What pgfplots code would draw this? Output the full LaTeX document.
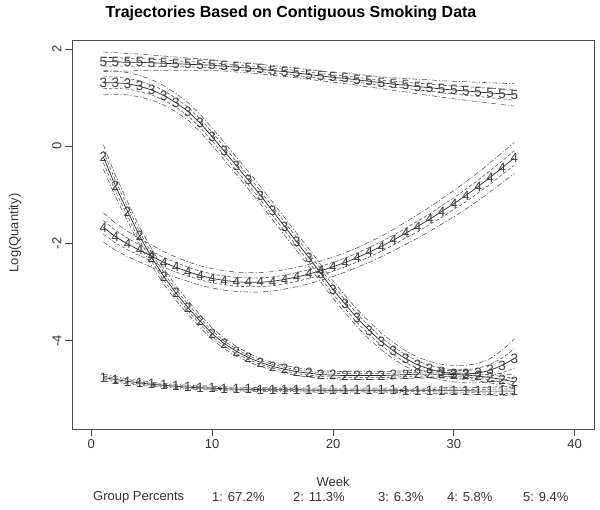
\documentclass[border=0pt]{standalone}
\usepackage{fontspec}
\setmainfont{Liberation Sans}
\usepackage{pgfplots}
\usepackage{pgfplotstable}
\pgfplotsset{compat=1.18}

\pgfplotstableread{
w m lo hi li ui
1 -4.76 -4.83 -4.69 -4.79 -4.73
2 -4.80 -4.86 -4.74 -4.83 -4.77
3 -4.84 -4.89 -4.79 -4.87 -4.81
4 -4.87 -4.92 -4.82 -4.89 -4.85
5 -4.90 -4.94 -4.86 -4.92 -4.88
6 -4.92 -4.96 -4.88 -4.94 -4.90
7 -4.94 -4.98 -4.90 -4.96 -4.92
8 -4.96 -5.00 -4.92 -4.98 -4.94
9 -4.97 -5.01 -4.93 -4.99 -4.95
10 -4.98 -5.02 -4.94 -5.00 -4.96
11 -4.99 -5.03 -4.95 -5.01 -4.97
12 -5.00 -5.04 -4.96 -5.02 -4.98
13 -5.00 -5.04 -4.96 -5.02 -4.98
14 -5.01 -5.05 -4.97 -5.03 -4.99
15 -5.01 -5.05 -4.97 -5.03 -4.99
16 -5.01 -5.05 -4.97 -5.03 -4.99
17 -5.01 -5.05 -4.97 -5.03 -4.99
18 -5.02 -5.06 -4.98 -5.04 -5.00
19 -5.02 -5.06 -4.98 -5.04 -5.00
20 -5.02 -5.06 -4.98 -5.04 -5.00
21 -5.02 -5.06 -4.98 -5.04 -5.00
22 -5.02 -5.06 -4.98 -5.04 -5.00
23 -5.02 -5.06 -4.98 -5.04 -5.00
24 -5.02 -5.06 -4.98 -5.04 -5.00
25 -5.02 -5.06 -4.98 -5.04 -5.00
26 -5.03 -5.08 -4.98 -5.05 -5.01
27 -5.03 -5.08 -4.98 -5.05 -5.01
28 -5.03 -5.08 -4.98 -5.05 -5.01
29 -5.03 -5.09 -4.97 -5.06 -5.00
30 -5.03 -5.09 -4.97 -5.06 -5.00
31 -5.03 -5.10 -4.96 -5.06 -5.00
32 -5.04 -5.11 -4.97 -5.07 -5.01
33 -5.04 -5.12 -4.96 -5.08 -5.00
34 -5.04 -5.13 -4.95 -5.08 -5.00
35 -5.04 -5.14 -4.94 -5.09 -4.99
}\gA

\pgfplotstableread{
w m lo hi li ui
1 -0.22 -0.47 0.03 -0.34 -0.10
2 -0.82 -1.04 -0.60 -0.93 -0.71
3 -1.34 -1.54 -1.14 -1.44 -1.24
4 -1.85 -2.03 -1.67 -1.94 -1.76
5 -2.29 -2.46 -2.12 -2.37 -2.21
6 -2.68 -2.84 -2.52 -2.76 -2.60
7 -3.02 -3.17 -2.87 -3.09 -2.95
8 -3.32 -3.46 -3.18 -3.39 -3.25
9 -3.60 -3.73 -3.47 -3.66 -3.54
10 -3.86 -3.98 -3.74 -3.92 -3.80
11 -4.06 -4.17 -3.95 -4.11 -4.01
12 -4.22 -4.32 -4.12 -4.27 -4.17
13 -4.35 -4.44 -4.26 -4.39 -4.31
14 -4.45 -4.53 -4.37 -4.49 -4.41
15 -4.53 -4.61 -4.45 -4.57 -4.49
16 -4.59 -4.67 -4.51 -4.63 -4.55
17 -4.64 -4.72 -4.56 -4.68 -4.60
18 -4.67 -4.75 -4.59 -4.71 -4.63
19 -4.70 -4.78 -4.62 -4.74 -4.66
20 -4.71 -4.79 -4.63 -4.75 -4.67
21 -4.72 -4.80 -4.64 -4.76 -4.68
22 -4.72 -4.80 -4.64 -4.76 -4.68
23 -4.72 -4.80 -4.64 -4.76 -4.68
24 -4.72 -4.80 -4.64 -4.76 -4.68
25 -4.71 -4.79 -4.63 -4.75 -4.67
26 -4.70 -4.78 -4.62 -4.74 -4.66
27 -4.69 -4.77 -4.61 -4.73 -4.65
28 -4.69 -4.77 -4.61 -4.73 -4.65
29 -4.69 -4.77 -4.61 -4.73 -4.65
30 -4.70 -4.78 -4.62 -4.74 -4.66
31 -4.71 -4.80 -4.62 -4.75 -4.67
32 -4.73 -4.83 -4.63 -4.78 -4.68
33 -4.76 -4.87 -4.65 -4.81 -4.71
34 -4.80 -4.92 -4.68 -4.86 -4.74
35 -4.85 -4.99 -4.71 -4.92 -4.78
}\gB

\pgfplotstableread{
w m lo hi li ui
1 1.31 1.06 1.56 1.19 1.43
2 1.31 1.07 1.55 1.19 1.43
3 1.29 1.06 1.52 1.18 1.40
4 1.24 1.02 1.46 1.13 1.35
5 1.16 0.95 1.37 1.06 1.26
6 1.05 0.85 1.25 0.95 1.15
7 0.90 0.71 1.09 0.81 0.99
8 0.72 0.54 0.90 0.63 0.81
9 0.48 0.30 0.66 0.39 0.57
10 0.20 0.02 0.38 0.11 0.29
11 -0.10 -0.28 0.08 -0.19 -0.01
12 -0.40 -0.58 -0.22 -0.49 -0.31
13 -0.70 -0.88 -0.52 -0.79 -0.61
14 -1.01 -1.19 -0.83 -1.10 -0.92
15 -1.33 -1.51 -1.15 -1.42 -1.24
16 -1.65 -1.83 -1.47 -1.74 -1.56
17 -1.97 -2.15 -1.79 -2.06 -1.88
18 -2.29 -2.47 -2.11 -2.38 -2.20
19 -2.62 -2.80 -2.44 -2.71 -2.53
20 -2.95 -3.13 -2.77 -3.04 -2.86
21 -3.25 -3.43 -3.07 -3.34 -3.16
22 -3.54 -3.72 -3.36 -3.63 -3.45
23 -3.79 -3.97 -3.61 -3.88 -3.70
24 -4.02 -4.19 -3.85 -4.10 -3.94
25 -4.21 -4.38 -4.04 -4.29 -4.13
26 -4.37 -4.53 -4.21 -4.45 -4.29
27 -4.50 -4.66 -4.34 -4.58 -4.42
28 -4.59 -4.75 -4.43 -4.67 -4.51
29 -4.65 -4.81 -4.49 -4.73 -4.57
30 -4.68 -4.85 -4.51 -4.76 -4.60
31 -4.69 -4.87 -4.51 -4.78 -4.60
32 -4.67 -4.87 -4.47 -4.77 -4.57
33 -4.61 -4.85 -4.37 -4.73 -4.49
34 -4.51 -4.82 -4.20 -4.66 -4.36
35 -4.37 -4.77 -3.97 -4.57 -4.17
}\gC

\pgfplotstableread{
w m lo hi li ui
1 -1.67 -1.97 -1.37 -1.81 -1.53
2 -1.86 -2.14 -1.58 -1.99 -1.73
3 -2.01 -2.27 -1.75 -2.13 -1.89
4 -2.14 -2.38 -1.90 -2.25 -2.03
5 -2.26 -2.49 -2.03 -2.36 -2.16
6 -2.39 -2.61 -2.17 -2.49 -2.29
7 -2.49 -2.70 -2.28 -2.59 -2.39
8 -2.58 -2.78 -2.38 -2.67 -2.49
9 -2.66 -2.86 -2.46 -2.75 -2.57
10 -2.72 -2.92 -2.52 -2.81 -2.63
11 -2.76 -2.96 -2.56 -2.85 -2.67
12 -2.79 -2.99 -2.59 -2.88 -2.70
13 -2.80 -3.00 -2.60 -2.89 -2.71
14 -2.80 -3.00 -2.60 -2.89 -2.71
15 -2.78 -2.98 -2.58 -2.87 -2.69
16 -2.74 -2.94 -2.54 -2.83 -2.65
17 -2.69 -2.89 -2.49 -2.78 -2.60
18 -2.63 -2.83 -2.43 -2.72 -2.54
19 -2.56 -2.76 -2.36 -2.65 -2.47
20 -2.48 -2.68 -2.28 -2.57 -2.39
21 -2.39 -2.59 -2.19 -2.48 -2.30
22 -2.29 -2.49 -2.09 -2.38 -2.20
23 -2.18 -2.39 -1.97 -2.28 -2.08
24 -2.06 -2.27 -1.85 -2.16 -1.96
25 -1.93 -2.15 -1.71 -2.03 -1.83
26 -1.79 -2.02 -1.56 -1.89 -1.69
27 -1.65 -1.89 -1.41 -1.76 -1.54
28 -1.50 -1.75 -1.25 -1.61 -1.39
29 -1.34 -1.60 -1.08 -1.46 -1.22
30 -1.18 -1.45 -0.91 -1.30 -1.06
31 -1.01 -1.29 -0.73 -1.14 -0.88
32 -0.83 -1.12 -0.54 -0.96 -0.70
33 -0.64 -0.94 -0.34 -0.78 -0.50
34 -0.44 -0.75 -0.13 -0.58 -0.30
35 -0.24 -0.56 0.08 -0.39 -0.09
}\gD

\pgfplotstableread{
w m lo hi li ui
1 1.74 1.54 1.94 1.65 1.83
2 1.74 1.55 1.93 1.65 1.83
3 1.73 1.55 1.91 1.65 1.81
4 1.73 1.56 1.90 1.65 1.81
5 1.72 1.56 1.88 1.65 1.79
6 1.71 1.56 1.86 1.64 1.78
7 1.70 1.56 1.84 1.64 1.76
8 1.69 1.56 1.82 1.63 1.75
9 1.68 1.56 1.80 1.63 1.73
10 1.67 1.56 1.78 1.62 1.72
11 1.65 1.55 1.75 1.60 1.70
12 1.63 1.53 1.73 1.58 1.68
13 1.61 1.51 1.71 1.56 1.66
14 1.59 1.49 1.69 1.54 1.64
15 1.56 1.46 1.66 1.51 1.61
16 1.54 1.44 1.64 1.49 1.59
17 1.51 1.41 1.61 1.46 1.56
18 1.48 1.38 1.58 1.43 1.53
19 1.45 1.35 1.55 1.40 1.50
20 1.42 1.32 1.52 1.37 1.47
21 1.40 1.29 1.51 1.35 1.45
22 1.37 1.26 1.48 1.32 1.42
23 1.34 1.22 1.46 1.29 1.39
24 1.31 1.19 1.43 1.26 1.36
25 1.28 1.15 1.41 1.22 1.34
26 1.26 1.12 1.40 1.20 1.32
27 1.23 1.08 1.38 1.16 1.30
28 1.21 1.05 1.37 1.14 1.28
29 1.18 1.01 1.35 1.10 1.26
30 1.16 0.98 1.34 1.08 1.24
31 1.14 0.95 1.33 1.05 1.23
32 1.12 0.92 1.32 1.03 1.21
33 1.10 0.89 1.31 1.00 1.20
34 1.08 0.86 1.30 0.98 1.18
35 1.06 0.83 1.29 0.95 1.17
}\gE

\newcommand{\lab}{\fontsize{13bp}{15bp}\selectfont}
\tikzset{
  ci/.style={black!70, line width=0.55bp, dash pattern=on 5bp off 2bp on 1bp off 2bp},
  inner/.style={black!70, line width=0.55bp, dash pattern=on 3.5bp off 2bp},
}
\pgfplotsset{
  grp/.style={black!85, line width=0.7bp, mark=none,
    nodes near coords={#1},
    every node near coord/.append style={anchor=center, inner sep=0pt,
      font=\fontsize{13.5bp}{13.5bp}\selectfont, text=black!75}},
}

\begin{document}
\begin{tikzpicture}
\path[use as bounding box] (0,0) rectangle (600bp,-510bp);
\begin{axis}[
  name=ax, at={(72bp,-429bp)}, anchor=south west,
  scale only axis, width=522bp, height=389bp,
  xmin=-1.6, xmax=41.6, ymin=-5.82, ymax=2.19,
  axis line style={draw=black!70, line width=0.9bp},
  xtick={0,10,20,30,40}, ytick={-4,-2,0,2},
  xticklabels={0,10,20,30,40}, yticklabels={-4,-2,0,2},
  tick pos=left, tick align=outside, major tick length=7bp,
  tick style={black!75, line width=0.8bp},
  tick label style={font=\lab, text=black!80},
  yticklabel style={rotate=90, anchor=south},
]
% group 1
\addplot[ci] table[x=w,y=lo]{\gA};
\addplot[ci] table[x=w,y=hi]{\gA};
\addplot[inner] table[x=w,y=li]{\gA};
\addplot[inner] table[x=w,y=ui]{\gA};
\addplot[grp=1] table[x=w,y=m]{\gA};
% group 2
\addplot[ci] table[x=w,y=lo]{\gB};
\addplot[ci] table[x=w,y=hi]{\gB};
\addplot[inner] table[x=w,y=li]{\gB};
\addplot[inner] table[x=w,y=ui]{\gB};
\addplot[grp=2] table[x=w,y=m]{\gB};
% group 3
\addplot[ci] table[x=w,y=lo]{\gC};
\addplot[ci] table[x=w,y=hi]{\gC};
\addplot[inner] table[x=w,y=li]{\gC};
\addplot[inner] table[x=w,y=ui]{\gC};
\addplot[grp=3] table[x=w,y=m]{\gC};
% group 4
\addplot[ci] table[x=w,y=lo]{\gD};
\addplot[ci] table[x=w,y=hi]{\gD};
\addplot[inner] table[x=w,y=li]{\gD};
\addplot[inner] table[x=w,y=ui]{\gD};
\addplot[grp=4] table[x=w,y=m]{\gD};
% group 5
\addplot[ci] table[x=w,y=lo]{\gE};
\addplot[ci] table[x=w,y=hi]{\gE};
\addplot[inner] table[x=w,y=li]{\gE};
\addplot[inner] table[x=w,y=ui]{\gE};
\addplot[grp=5] table[x=w,y=m]{\gE};
\end{axis}
\node[font=\fontsize{16bp}{18bp}\selectfont\bfseries] at (291bp,-13bp) {Trajectories Based on Contiguous Smoking Data};
\node[font=\lab, text=black!80] at (333bp,-482bp) {Week};
\node[font=\lab, text=black!80, rotate=90] at (15bp,-233bp) {Log(Quantity)};
\begin{scope}[every node/.style={font=\lab, text=black!80, anchor=west, inner sep=0pt}]
\node at (93bp,-497bp) {Group Percents};
\node at (212bp,-497bp) {1: 67.2\%};
\node at (293bp,-497bp) {2: 11.3\%};
\node at (378bp,-497bp) {3: 6.3\%};
\node at (447bp,-497bp) {4: 5.8\%};
\node at (523bp,-497bp) {5: 9.4\%};
\end{scope}
\end{tikzpicture}
\end{document}
